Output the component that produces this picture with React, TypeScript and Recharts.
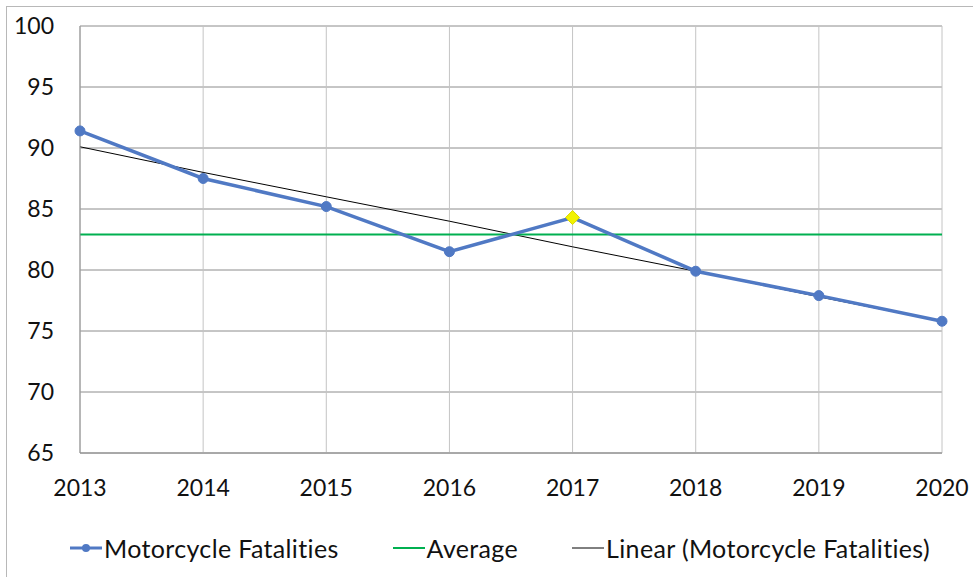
import React from 'react';
import { LineChart, Line, XAxis, YAxis, CartesianGrid, Legend } from 'recharts';

const YEARS = ['2013', '2014', '2015', '2016', '2017', '2018', '2019', '2020'];
const FATALITIES = [91.4, 87.5, 85.2, 81.5, 84.3, 79.9, 77.9, 75.8];
const AVERAGE = [82.9, 82.9, 82.9, 82.9, 82.9, 82.9, 82.9, 82.9];
const TREND = [90.1, 88.0, 86.0, 84.0, 81.9, 79.9, 77.8, 75.8];
const Y_TICKS = [65, 70, 75, 80, 85, 90, 95, 100];
const HIGHLIGHT_YEAR = '2017';

const FONT = 'Lato, "Open Sans", sans-serif';
const BLUE = '#5079c4';
const GREEN = '#00b050';

const data = YEARS.map((year, i) => ({
  year,
  fatalities: FATALITIES[i],
  average: AVERAGE[i],
  trend: TREND[i],
}));

// yellow diamond for the highlighted year, blue dots elsewhere
const renderDot = (props: any) => {
  const { cx, cy, payload, index } = props;
  if (payload.year === HIGHLIGHT_YEAR) {
    const s = 7;
    return (
      <path
        key={`dot-${index}`}
        d={`M${cx},${cy - s} L${cx + s},${cy} L${cx},${cy + s} L${cx - s},${cy} Z`}
        fill="#f2f200"
        stroke="#d8d800"
        strokeWidth={1}
      />
    );
  }
  return <circle key={`dot-${index}`} cx={cx} cy={cy} r={5} fill={BLUE} stroke={BLUE} />;
};

const legendItems = [
  { label: 'Motorcycle Fatalities', color: BLUE, width: 3, dot: true },
  { label: 'Average', color: GREEN, width: 2, dot: false },
  { label: 'Linear (Motorcycle Fatalities)', color: '#000', width: 1, dot: false },
];

const renderLegend = () => (
  <div
    style={{
      height: 40,
      display: 'flex',
      alignItems: 'center',
      paddingLeft: 70,
      fontFamily: FONT,
      fontSize: 25,
      letterSpacing: 0.35,
      color: '#111',
      whiteSpace: 'nowrap',
    }}
  >
    {legendItems.map((item, i) => (
      <div
        key={item.label}
        style={{ display: 'flex', alignItems: 'center', marginLeft: i === 0 ? 0 : 54 }}
      >
        <svg width={32} height={12} style={{ marginRight: 2 }}>
          <line x1={0} y1={6} x2={32} y2={6} stroke={item.color} strokeWidth={item.width} />
          {item.dot && <circle cx={16} cy={6} r={4} fill={item.color} />}
        </svg>
        <span>{item.label}</span>
      </div>
    ))}
  </div>
);

export default function App() {
  return (
    <div style={{ position: 'absolute', left: 0, top: 0, width: 973, height: 577, background: '#fff', overflow: 'hidden' }}>
      <div
        style={{
          position: 'absolute',
          left: 6,
          top: 6,
          width: 980,
          height: 590,
          border: '1px solid #b8b8b8',
        }}
      />
      <LineChart
        width={973}
        height={577}
        data={data}
        margin={{ top: 26, right: 31, left: 0, bottom: 9 }}
      >
        <CartesianGrid vertical={false} stroke="#8c8c8c" strokeWidth={1} />
        <CartesianGrid horizontal={false} stroke="#c4c4c4" strokeWidth={1} />
        <XAxis
          dataKey="year"
          height={75}
          axisLine={{ stroke: '#8c8c8c' }}
          tickLine={false}
          tickSize={0}
          tickMargin={27}
          tick={{ fill: '#111', fontSize: 23, fontFamily: FONT }}
          interval={0}
        />
        <YAxis
          width={80}
          domain={[65, 100]}
          ticks={Y_TICKS}
          axisLine={{ stroke: '#8c8c8c' }}
          tickLine={false}
          tickSize={0}
          tickMargin={26}
          tick={{ fill: '#111', fontSize: 23, fontFamily: FONT }}
        />
        <Line
          dataKey="trend"
          stroke="#000"
          strokeWidth={1}
          dot={false}
          isAnimationActive={false}
        />
        <Line
          dataKey="average"
          stroke={GREEN}
          strokeWidth={2}
          dot={false}
          isAnimationActive={false}
        />
        <Line
          dataKey="fatalities"
          stroke={BLUE}
          strokeWidth={3.5}
          dot={renderDot}
          activeDot={false}
          isAnimationActive={false}
        />
        <Legend verticalAlign="bottom" content={renderLegend} />
      </LineChart>
    </div>
  );
}
